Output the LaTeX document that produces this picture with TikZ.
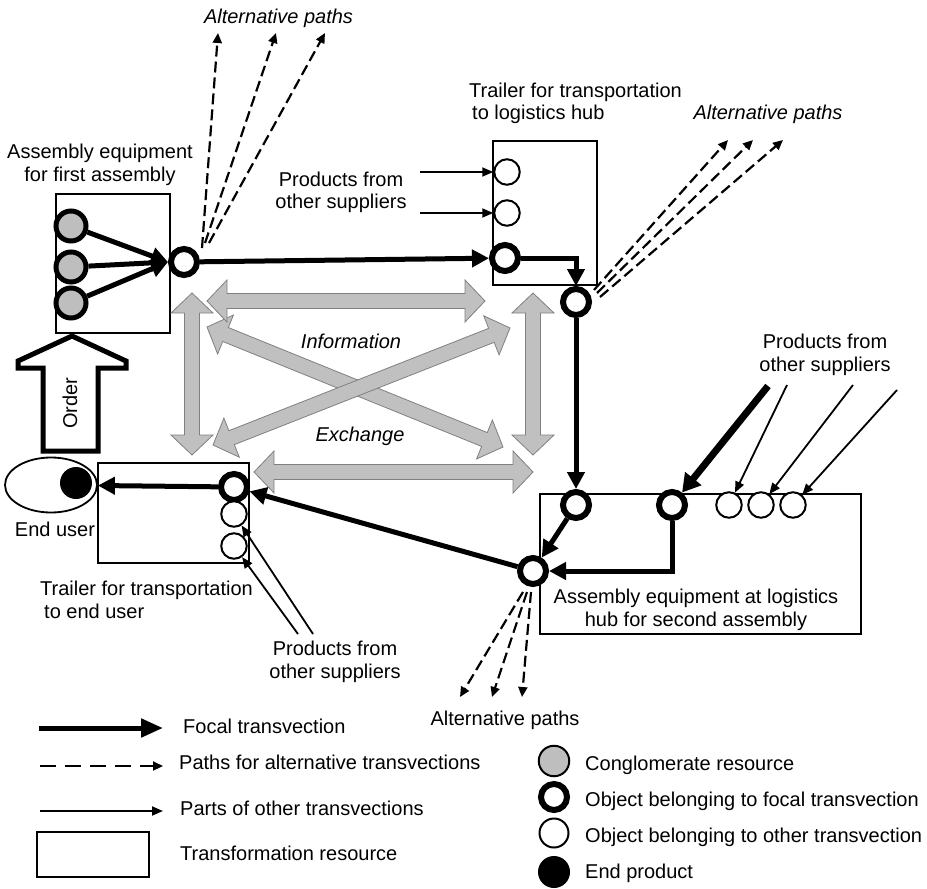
\documentclass[tikz,border=0pt]{standalone}
\usepackage{fontspec}
\setmainfont{Liberation Sans}
\usetikzlibrary{arrows.meta,calc,shapes.geometric}

\definecolor{conglogray}{RGB}{190,190,190}
\definecolor{infofill}{RGB}{192,192,192}
\definecolor{infoedge}{RGB}{128,128,128}

% double-headed grey arrow between two named points
\newcommand\infoarrow[2]{%
  \draw[info] (#1)
    -- ($(#1)!20pt!(#2)!21pt!90:(#2)$)
    -- ($(#1)!20pt!(#2)!7.5pt!90:(#2)$)
    -- ($(#2)!20pt!(#1)!7.5pt!-90:(#1)$)
    -- ($(#2)!20pt!(#1)!21pt!-90:(#1)$)
    -- (#2)
    -- ($(#2)!20pt!(#1)!21pt!90:(#1)$)
    -- ($(#2)!20pt!(#1)!7.5pt!90:(#1)$)
    -- ($(#1)!20pt!(#2)!7.5pt!-90:(#2)$)
    -- ($(#1)!20pt!(#2)!21pt!-90:(#2)$)
    -- cycle;}

\begin{document}
\begin{tikzpicture}[x=1pt,y=-1pt,
  every node/.style={inner sep=0pt},
  txt/.style={font=\fontsize{20}{22.5}\selectfont},
  itxt/.style={font=\fontsize{20}{22.5}\selectfont\itshape},
  resbox/.style={draw, line width=2pt},
  focalobj/.style={circle, draw, fill=white, line width=6pt, minimum size=26pt},
  otherobj/.style={circle, draw, fill=white, line width=2pt, minimum size=25.5pt},
  conglom/.style={circle, draw, fill=conglogray, line width=5pt, minimum size=30pt},
  endprod/.style={circle, fill=black, minimum size=32pt},
  focal/.style={line width=5pt, -{Triangle[length=17pt,width=17pt]}},
  heavy/.style={line width=7pt, -{Triangle[length=18pt,width=20pt]}},
  altpath/.style={line width=2.2pt, dash pattern=on 11pt off 5pt, -{Triangle[length=10pt,width=9pt]}},
  otherpath/.style={line width=1.8pt, -{Triangle[length=11pt,width=9pt]}},
  info/.style={draw=infoedge, fill=infofill, line width=0.8pt, line join=miter},
]
\fill[white] (0,0) rectangle (927,889);
\useasboundingbox (0,0) rectangle (927,889);

% ---------- transformation resources ----------
\node[resbox, minimum width=114pt, minimum height=139pt] (A1) at (113,263.5) {};
\node[resbox, minimum width=104pt, minimum height=144pt] (T1) at (545,213) {};
\node[resbox, minimum width=321pt, minimum height=140pt] (B) at (700.5,564) {};
\node[resbox, minimum width=151pt, minimum height=100pt] (T2) at (173.5,513) {};

% ---------- labels ----------
\node[txt, align=center] (lA1) at (100,165) {Assembly equipment\\for first assembly};
\node[txt, align=left, anchor=west] (lT1) at (469,103.5) {Trailer for transportation\\\hspace*{3pt}to logistics hub};
\node[txt, align=center] (lB) at (696,610) {Assembly equipment at logistics\\hub for second assembly};
\node[txt, align=left, anchor=west] (lT2) at (40,600) {Trailer for transportation\\\hspace*{4pt}to end user};
\node[txt, align=center] (sup1) at (341,192.5) {Products from\\other suppliers};
\node[txt, align=center] (sup2) at (825,355) {Products from\\other suppliers};
\node[txt, align=center] (sup3) at (335,662) {Products from\\other suppliers};
\node[itxt] (alt1) at (278.5,18.5) {Alternative paths};
\node[itxt] (alt2) at (768,114) {Alternative paths};
\node[txt] (alt3) at (505,720) {Alternative paths};
\node[itxt] (infotxt) at (351,341) {Information};
\node[itxt] (exchtxt) at (360,436) {Exchange};
\node[txt] (eutxt) at (55,529) {End user};

% ---------- information exchange arrows ----------
\coordinate (ia1) at (207,301); \coordinate (ia2) at (485,301);
\coordinate (ib1) at (254,472); \coordinate (ib2) at (533,472);
\coordinate (ic1) at (192,293); \coordinate (ic2) at (192,455);
\coordinate (id1) at (533,293); \coordinate (id2) at (533,455);
\coordinate (ie1) at (207,327); \coordinate (ie2) at (503,447);
\coordinate (if1) at (213,445); \coordinate (if2) at (510,328);
\infoarrow{ie1}{ie2}
\infoarrow{if1}{if2}
\infoarrow{ia1}{ia2}
\infoarrow{ib1}{ib2}
\infoarrow{ic1}{ic2}
\infoarrow{id1}{id2}

% ---------- order arrow ----------
\draw[line width=5pt, fill=white, line join=miter]
  (72,336) -- (126,361) -- (126,368) -- (98,368) -- (98,451) -- (43,451)
  -- (43,368) -- (18,368) -- (18,361) -- cycle;
\node[txt, rotate=90] (ordertxt) at (70,403) {Order};

% ---------- objects ----------
\node[conglom] (g1) at (71,226) {};
\node[conglom] (g2) at (71,267) {};
\node[conglom] (g3) at (71,303) {};
\node[focalobj] (C1) at (184,262) {};
\node[otherobj] (o1) at (507,172) {};
\node[otherobj] (o2) at (507,213) {};
\node[focalobj] (C2) at (505,258) {};
\node[focalobj] (C3) at (576,302) {};
\node[focalobj] (C4) at (576,505) {};
\node[focalobj] (C5) at (672,505) {};
\node[otherobj] (o3) at (729,505) {};
\node[otherobj] (o4) at (761,505) {};
\node[otherobj] (o5) at (793,505) {};
\node[focalobj] (C6) at (533,571) {};
\node[focalobj] (C7) at (234,487) {};
\node[otherobj] (o6) at (234,514) {};
\node[otherobj] (o7) at (234,546) {};
\node[ellipse, draw, line width=1.8pt, minimum width=92pt, minimum height=55pt] (EU) at (51,485) {};
\node[endprod] (EP) at (76,483) {};

% ---------- focal transvection ----------
\draw[focal] (g1) -- (C1.west);
\draw[focal] (g2) -- (C1.west);
\draw[focal] (g3) -- (C1.west);
\draw[focal] (C1) -- (C2);
\draw[focal] (C2.east) -| (C3.north);
\draw[focal] (C3) -- (C4);
\draw[focal] (C4) -- (C6);
\draw[focal] (C5.south) |- (C6.east);
\draw[focal] (C6) -- (C7);
\draw[focal] (C7) -- (EU);

% ---------- inputs from other suppliers ----------
\coordinate (inH) at (768,386);
\coordinate (inA) at (420,172);
\coordinate (inB) at (420,213);
\coordinate (inC) at (787,385);
\coordinate (inD) at (853,385);
\coordinate (inE) at (897,390);
\coordinate (inF) at (313,634);
\coordinate (inG) at (298,634);
\draw[heavy] (inH) -- (C5);
\draw[otherpath] (inA) -- (o1);
\draw[otherpath] (inB) -- (o2);
\draw[otherpath] (inC) -- (o3);
\draw[otherpath] (inD) -- (o4);
\draw[otherpath] (inE) -- (o5);
\draw[otherpath] (inF) -- (o6);
\draw[otherpath] (inG) -- (o7);

% ---------- alternative paths ----------
\coordinate (pa1) at (218,33);
\coordinate (pa2) at (276,33);
\coordinate (pa3) at (325,33);
\coordinate (pb1) at (728,140);
\coordinate (pb2) at (753,140);
\coordinate (pb3) at (783,140);
\coordinate (pc1) at (460,697);
\coordinate (pc2) at (492,697);
\coordinate (pc3) at (522,697);
\draw[altpath] ([shift={(18,-14)}]C1.center) -- (pa1);
\draw[altpath] ([shift={(21,-19)}]C1.center) -- (pa2);
\draw[altpath] ([shift={(25,-19)}]C1.center) -- (pa3);
\draw[altpath] ([shift={(18,-12)}]C3.center) -- (pb1);
\draw[altpath] ([shift={(21,-9)}]C3.center) -- (pb2);
\draw[altpath] ([shift={(24,-5)}]C3.center) -- (pb3);
\draw[altpath] ([shift={(-10,21)}]C6.center) -- (pc1);
\draw[altpath] ([shift={(-6,21)}]C6.center) -- (pc2);
\draw[altpath] ([shift={(-2,21)}]C6.center) -- (pc3);

% ---------- legend ----------
\coordinate (lg1a) at (39,728);  \coordinate (lg1b) at (163,728);
\coordinate (lg2a) at (40,766);  \coordinate (lg2b) at (163,766);
\coordinate (lg3a) at (40,811);  \coordinate (lg3b) at (163,811);
\draw[line width=5pt, -{Triangle[length=22pt,width=18pt]}] (lg1a) -- (lg1b);
\draw[line width=2.2pt, dash pattern=on 16pt off 9pt, -{Triangle[length=10pt,width=9pt]}] (lg2a) -- (lg2b);
\draw[otherpath] (lg3a) -- (lg3b);
\node[resbox, minimum width=112pt, minimum height=45pt] (lgbox) at (93,854.5) {};
\node[txt, anchor=base west] (lt1) at (183,733) {Focal transvection};
\node[txt, anchor=base west] (lt2) at (179,769) {Paths for alternative transvections};
\node[txt, anchor=base west] (lt3) at (180,815) {Parts of other transvections};
\node[txt, anchor=base west] (lt4) at (180,860) {Transformation resource};

\node[circle, draw, fill=conglogray, line width=2pt, minimum size=30.5pt] (lc1) at (554,761) {};
\node[focalobj] (lc2) at (554,797) {};
\node[otherobj, minimum size=29pt] (lc3) at (554,833) {};
\node[endprod] (lc4) at (554,872) {};
\node[txt, anchor=base west] (lr1) at (585,770) {Conglomerate resource};
\node[txt, anchor=base west] (lr2) at (585,806) {Object belonging to focal transvection};
\node[txt, anchor=base west] (lr3) at (585,842) {Object belonging to other transvection};
\node[txt, anchor=base west] (lr4) at (585,878) {End product};
\end{tikzpicture}
\end{document}
